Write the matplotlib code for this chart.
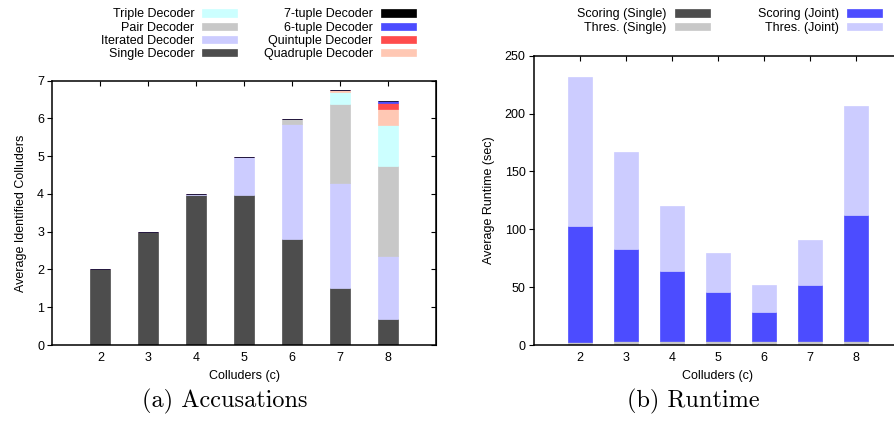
import matplotlib
matplotlib.use("Agg")
import matplotlib.pyplot as plt
import numpy as np

plt.rcParams['font.family'] = ['Liberation Sans', 'DejaVu Sans']

# ---------------- data: (a) Accusations ----------------
colluders = [2, 3, 4, 5, 6, 7, 8]
single_dec = [2.00, 3.00, 3.97, 3.97, 2.82, 1.51, 0.69]
iterated_dec = [0.00, 0.00, 0.03, 1.02, 3.03, 2.79, 1.67]
pair_dec = [0.00, 0.00, 0.00, 0.00, 0.14, 2.08, 2.38]
triple_dec = [0.00, 0.00, 0.00, 0.00, 0.00, 0.32, 1.09]
quadruple_dec = [0.00, 0.00, 0.00, 0.00, 0.00, 0.05, 0.42]
quintuple_dec = [0.00, 0.00, 0.00, 0.00, 0.00, 0.00, 0.17]
sixtuple_dec = [0.00, 0.00, 0.00, 0.00, 0.00, 0.00, 0.03]
seventuple_dec = [0.00, 0.00, 0.00, 0.00, 0.00, 0.01, 0.01]

# ---------------- data: (b) Runtime ----------------
scoring_single = [0.3, 0.3, 0.3, 0.3, 0.3, 0.3, 0.3]
thres_single = [2.2, 3.0, 3.0, 3.0, 3.0, 3.0, 3.0]
scoring_joint = [100.3, 79.7, 60.7, 42.5, 25.2, 48.6, 109.1]
thres_joint = [128.8, 83.8, 56.0, 33.7, 23.4, 38.9, 94.2]

acc_series = [
    ("Single Decoder", single_dec, "#4d4d4d"),
    ("Iterated Decoder", iterated_dec, "#ccccff"),
    ("Pair Decoder", pair_dec, "#c8c8c8"),
    ("Triple Decoder", triple_dec, "#ccffff"),
    ("Quadruple Decoder", quadruple_dec, "#ffc8b4"),
    ("Quintuple Decoder", quintuple_dec, "#ff4c4c"),
    ("6-tuple Decoder", sixtuple_dec, "#4c4cff"),
    ("7-tuple Decoder", seventuple_dec, "#000000"),
]
run_series = [
    ("Scoring (Single)", scoring_single, "#4d4d4d"),
    ("Thres. (Single)", thres_single, "#c8c8c8"),
    ("Scoring (Joint)", scoring_joint, "#4c4cff"),
    ("Thres. (Joint)", thres_joint, "#ccccff"),
]

W, H = 895, 423
fig = plt.figure(figsize=(W / 100, H / 100), dpi=100)

def px_axes(l, r, t, b):
    return fig.add_axes([l / W, 1 - b / H, (r - l) / W, (b - t) / H])

ax1 = px_axes(52.5, 435.7, 80.7, 345)
ax2 = px_axes(534, 902, 55.7, 345)

def stacked(ax, series, width):
    x = np.array(colluders, dtype=float)
    bottom = np.zeros(len(x))
    handles = {}
    for name, vals, col in series:
        v = np.array(vals, dtype=float)
        b = ax.bar(x, v, width=width, bottom=bottom, color=col,
                   edgecolor=col, linewidth=0.5, label=name, zorder=2)
        handles[name] = b
        bottom = bottom + v
    return handles

tick_fs = 9
h1 = stacked(ax1, acc_series, 0.42)
h2 = stacked(ax2, run_series, 0.53)

for ax in (ax1, ax2):
    ax.set_xlim(1, 9)
    ax.set_xticks(colluders)
    ax.set_xlabel("Colluders (c)", fontsize=tick_fs, labelpad=4)
    for s in ax.spines.values():
        s.set_linewidth(1.1)
        s.set_zorder(5)
    ax.tick_params(axis='x', which='both', bottom=False, top=True,
                   direction='in', length=3.5, width=0.8,
                   labelsize=tick_fs, pad=5)
    ax.tick_params(axis='y', which='both', left=True, right=False,
                   direction='out', length=3.5, width=0.8,
                   labelsize=tick_fs, pad=2.5)

ax1.set_ylim(0, 7)
ax1.set_yticks(range(0, 8))
ax1.set_ylabel("Average Identified Colluders", fontsize=tick_fs, labelpad=7)
# right mirror ticks (inward)
ax1r = ax1.secondary_yaxis('right')
ax1r.set_yticks(range(0, 8))
ax1r.tick_params(direction='in', length=3.5, width=0.8, labelright=False)

ax2.set_ylim(0, 250)
ax2.set_yticks(range(0, 251, 50))
ax2.set_ylabel("Average Runtime (sec)", fontsize=tick_fs, labelpad=7)

leg_fs = 9
leg_kw = dict(ncol=2, markerfirst=False, frameon=False, loc='upper right',
              fontsize=leg_fs, handlelength=2.8, handleheight=0.5,
              handletextpad=0.65, labelspacing=0.1,
              borderpad=0, borderaxespad=0)
order1 = ["Triple Decoder", "Pair Decoder", "Iterated Decoder", "Single Decoder",
          "7-tuple Decoder", "6-tuple Decoder", "Quintuple Decoder", "Quadruple Decoder"]
fig.legend([h1[n] for n in order1], order1, columnspacing=2.1,
           bbox_to_anchor=(416 / W, 1 - 8.5 / H), **leg_kw)

order2 = ["Scoring (Single)", "Thres. (Single)", "Scoring (Joint)", "Thres. (Joint)"]
fig.legend([h2[n] for n in order2], order2, columnspacing=3.85,
           bbox_to_anchor=(882 / W, 1 - 8.5 / H), **leg_kw)

fig.text(225 / W, 1 - 401 / H, "(a) Accusations", family='cmr10',
         fontsize=17.5, ha='center', va='center')
fig.text(693 / W, 1 - 401 / H, "(b) Runtime", family='cmr10',
         fontsize=17.5, ha='center', va='center')

fig.savefig("out.png", dpi=100)
